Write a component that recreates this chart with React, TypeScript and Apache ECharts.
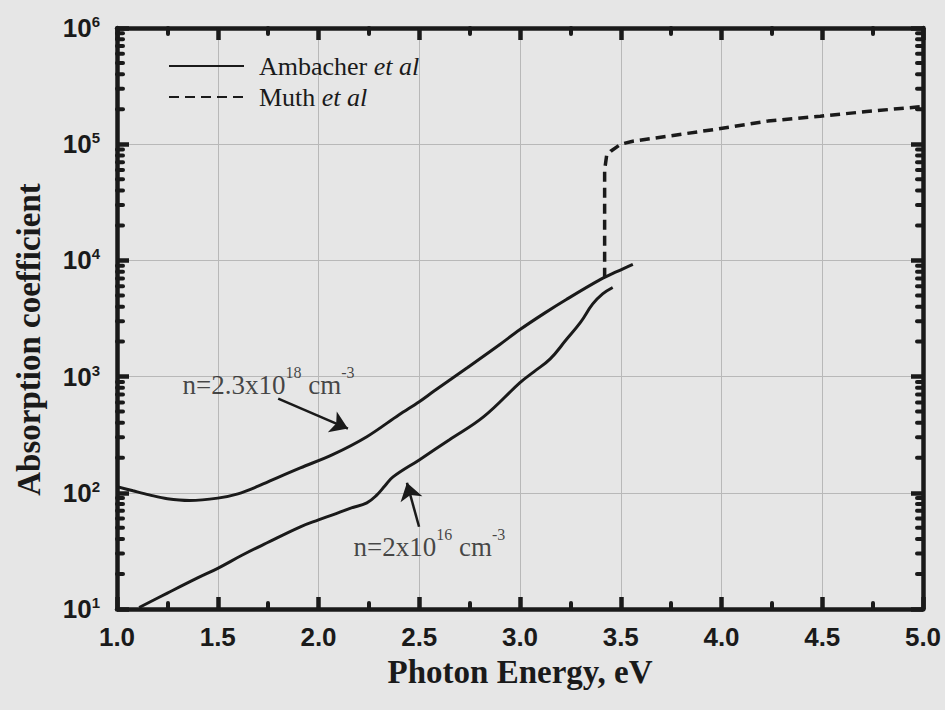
import React, { useEffect, useRef } from 'react';
import * as echarts from 'echarts';

// Ambacher et al, n = 2.3e18 cm^-3
const upperE = [1.00, 1.08, 1.16, 1.25, 1.36, 1.50, 1.60, 1.70, 1.80, 1.91, 2.07, 2.24, 2.40, 2.50, 2.57, 2.74, 2.90, 3.00, 3.12, 3.23, 3.40, 3.48, 3.56];
const upperA = [113, 104, 96, 89, 86, 90, 98, 114, 136, 164, 213, 304, 470, 608, 743, 1197, 1888, 2540, 3500, 4610, 6860, 8000, 9250];

// Ambacher et al, n = 2e16 cm^-3
const lowerE = [1.11, 1.25, 1.40, 1.50, 1.62, 1.74, 1.91, 2.00, 2.07, 2.16, 2.24, 2.29, 2.33, 2.37, 2.50, 2.65, 2.82, 3.00, 3.07, 3.15, 3.23, 3.30, 3.36, 3.41, 3.46];
const lowerA = [10.3, 13.7, 18.5, 22.4, 29, 36.8, 51, 58.5, 64.6, 73.8, 82, 96, 115, 137, 192, 286, 452, 887, 1104, 1420, 2084, 2924, 4200, 5150, 5850];

// Muth et al
const muthE = [3.42, 3.42, 3.43, 3.45, 3.50, 3.56, 3.73, 3.98, 4.23, 4.49, 4.72, 4.97, 5.00];
const muthA = [7100, 60000, 80000, 87000, 100000, 106000, 117000, 135000, 158000, 174000, 191000, 209000, 211000];

// annotations (data coordinates)
const arrowUpper = [[1.80, 646], [2.146, 357]];
const arrowLower = [[2.499, 51], [2.439, 122]];
const labelUpperPos = [1.323, 853];
const labelLowerPos = [2.171, 34.2];

const xMin = 1, xMax = 5, xInterval = 0.5;
const yMin = 10, yMax = 1e6;
const yMinorMultipliers = [2, 3, 4, 5, 6, 7, 8, 9];
const yDecades = [10, 100, 1000, 10000, 100000];

const SERIF = "'Liberation Serif', 'Times New Roman', serif";
const SANS = "'Liberation Sans', Arial, sans-serif";
const INK = '#1a1a1a';
const GRIDC = '#b8b8b8';
const BG = '#e6e6e6';

export default function App() {
  const ref = useRef<HTMLDivElement>(null);
  useEffect(() => {
    document.body.style.margin = '0';
    const chart = echarts.init(ref.current!, null, { renderer: 'svg' });
    const zip = (a: number[], b: number[]) => a.map((v, i) => [v, b[i]]);
    const yMinor: number[][] = [];
    yDecades.forEach((d) => yMinorMultipliers.forEach((m) => yMinor.push([xMin, d * m])));

    const axisLine = { show: true, onZero: false, lineStyle: { color: INK, width: 4.5 } };
    const axisTick = { show: true, inside: true, length: 12, lineStyle: { color: INK, width: 4.5 } };
    const xCommon: any = {
      type: 'value', min: xMin, max: xMax, interval: xInterval,
      axisLine, axisTick,
      minorTick: { show: true, splitNumber: 2, length: 6, lineStyle: { color: INK, width: 4, cap: 'round' } },
    };
    const yCommon: any = {
      type: 'log', logBase: 10, min: yMin, max: yMax,
      axisLine, axisTick,
    };
    const txtRich = {
      n: { fontFamily: SERIF, fontSize: 27, color: INK, lineHeight: 40 },
      s: { fontFamily: SERIF, fontSize: 16, color: INK, lineHeight: 14, verticalAlign: 'top' },
    };

    chart.setOption({
      animation: false,
      backgroundColor: BG,
      grid: { left: 117, right: 22, top: 28, bottom: 101, containLabel: false },
      legend: {
        data: ['Ambacher', 'Muth'],
        orient: 'vertical', left: 168, top: 53, padding: 0, itemGap: 5,
        itemWidth: 75, itemHeight: 14,
        itemStyle: { opacity: 0 },
        formatter: (name: string) => `{r|${name} }{i|et al}`,
        textStyle: {
          rich: {
            r: { fontFamily: SERIF, fontSize: 26, color: INK, lineHeight: 30, padding: [0, 0, 0, 10] },
            i: { fontFamily: SERIF, fontSize: 26, color: INK, lineHeight: 30, fontStyle: 'italic' },
          },
        },
      },
      xAxis: [
        {
          ...xCommon, position: 'bottom',
          axisLabel: { margin: 15, fontFamily: SANS, fontWeight: 'bold', fontSize: 26, color: INK, formatter: (v: number) => v.toFixed(1) },
          splitLine: { show: true, lineStyle: { color: GRIDC, width: 1 } },
          name: 'Photon Energy, eV', nameLocation: 'middle', nameGap: 46,
          nameTextStyle: { fontFamily: SERIF, fontWeight: 'bold', fontSize: 33, color: INK },
        },
        { ...xCommon, position: 'top', axisLabel: { show: false }, splitLine: { show: false } },
      ],
      yAxis: [
        {
          ...yCommon, position: 'left',
          axisLabel: {
            margin: 17,
            formatter: (v: number) => `{b|10}{s|${Math.round(Math.log10(v))}}`,
            rich: {
              b: { fontFamily: SANS, fontWeight: 'bold', fontSize: 26, color: INK, lineHeight: 28 },
              s: { fontFamily: SANS, fontWeight: 'bold', fontSize: 15, color: INK, lineHeight: 12, verticalAlign: 'top' },
            },
          },
          splitLine: { show: true, lineStyle: { color: GRIDC, width: 1 } },
          name: 'Absorption coefficient', nameLocation: 'middle', nameGap: 72, nameRotate: 90,
          nameTextStyle: { fontFamily: SERIF, fontWeight: 'bold', fontSize: 33, color: INK, padding: [0, 42, 0, 0] },
        },
        { ...yCommon, position: 'right', axisLabel: { show: false }, splitLine: { show: false } },
      ],
      series: [
        {
          name: 'Ambacher', type: 'line', data: zip(upperE, upperA), symbol: 'none', smooth: 0.35,
          lineStyle: { color: INK, width: 3 }, itemStyle: { color: INK },
          markLine: {
            silent: true, symbol: ['none', 'arrow'], symbolSize: 17, animation: false,
            label: { show: false },
            lineStyle: { type: 'solid', color: INK, width: 2.5 },
            data: [
              [{ coord: arrowUpper[0] }, { coord: arrowUpper[1] }],
              [{ coord: arrowLower[0] }, { coord: arrowLower[1] }],
            ],
          },
        },
        {
          name: 'Ambacher', type: 'line', data: zip(lowerE, lowerA), symbol: 'none', smooth: 0.4,
          lineStyle: { color: INK, width: 3 }, itemStyle: { color: INK },
        },
        {
          name: 'Muth', type: 'line', data: zip(muthE, muthA), symbol: 'none', smooth: false,
          lineStyle: { color: INK, width: 3.5, type: [10, 6] }, itemStyle: { color: INK },
        },
        {
          name: 'annotations', type: 'scatter', silent: true, symbolSize: 1,
          itemStyle: { color: 'rgba(0,0,0,0)' },
          label: { show: true, position: 'right', distance: 0, rich: txtRich },
          data: [
            { value: labelUpperPos, label: { formatter: '{n|n=2.3x10}{s|18}{n| cm}{s|-3}' } },
            { value: labelLowerPos, label: { formatter: '{n|n=2x10}{s|16}{n| cm}{s|-3}' } },
          ],
        },
        {
          name: 'yMinor', type: 'custom', silent: true, clip: false, data: yMinor,
          renderItem: (params: any, api: any) => {
            const v = api.value(1);
            const l = api.coord([xMin, v]);
            const r = api.coord([xMax, v]);
            const st = { stroke: INK, lineWidth: 4, lineCap: 'round' };
            return {
              type: 'group',
              children: [
                { type: 'line', shape: { x1: l[0], y1: l[1], x2: l[0] + 6, y2: l[1] }, style: st },
                { type: 'line', shape: { x1: r[0] - 6, y1: r[1], x2: r[0], y2: r[1] }, style: st },
              ],
            };
          },
        },
      ],
    });
    return () => chart.dispose();
  }, []);
  return <div ref={ref} style={{ width: 945, height: 710 }} />;
}
